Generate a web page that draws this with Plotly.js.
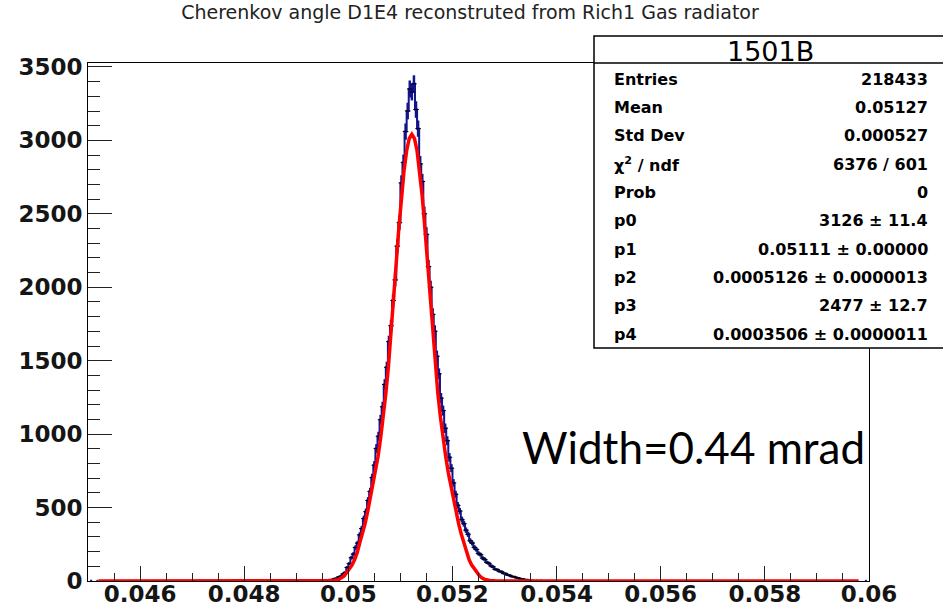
<!DOCTYPE html>
<html>
<head>
<meta charset="utf-8">
<script src="https://cdn.plot.ly/plotly-3.0.1.min.js"></script>
<style>html,body{margin:0;padding:0;background:#fff;}#chart{width:943px;height:608px;}</style>
</head>
<body>
<div id="chart"></div>
<script>
// ---------------- data ----------------
const chartTitle = "Cherenkov angle D1E4 reconstruted from Rich1 Gas radiator";
const histName = "1501B";
const binLo = 0.04948;      // lower edge of first core bin
const binWidth = 0.00004;   // bin width
// core histogram counts (bin centres 0.04950, 0.04954, ...)
const counts = [
  3,5,4,7,9,10,16,19,28,33,
  47,58,92,118,158,183,228,258,314,357,
  425,472,548,610,704,788,902,985,1098,1186,
  1338,1455,1630,1738,1910,2050,2280,2440,2710,2850,
  3060,3200,3350,3330,3385,3210,3080,2840,2720,2500,
  2360,2140,2000,1815,1700,1530,1410,1245,1160,1040,
  955,842,768,668,590,515,476,418,390,346,
  318,274,258,229,214,188,179,156,146,127,
  120,103,96,80,77,66,63,53,50,41,
  38,31,29,23,21,15,14,10,9,6,5
];
// sparse tail bins (few entries)
const tailX = [0.04506,0.04518,0.04534,0.04582,0.04610,0.04646,0.04690,0.04738,0.04770,0.04806,0.04830,0.04854,0.04874,0.04890,0.04906,0.04918,0.04926,0.04934,0.04942,
               0.05354,0.05362,0.05370,0.05382,0.05398,0.05420,0.05450,0.05994];
const tailY = [2,1,1,1,2,1,1,1,2,1,2,1,2,2,1,2,2,3,2,
               4,3,3,2,2,1,1,1];
// fit curve
const fitX = [0.04520,0.04900,0.04962,0.04972,0.04982,0.04987,0.04992,0.04999,0.05002,0.05007,0.05012,0.05017,0.05023,0.05027,0.05032,0.05037,0.05041,0.05047,0.05052,0.05057,0.05062,0.05067,0.05072,0.05077,0.05082,0.05087,0.05092,0.05097,0.05102,0.05107,0.05112,0.05117,0.05122,
              0.05127,0.05132,0.05137,0.05142,0.05147,0.05152,0.05157,0.05162,0.05167,0.05172,0.05177,0.05182,0.05187,0.05192,0.05197,0.05203,0.05207,0.05212,0.05217,0.05221,0.05227,0.05232,0.05237,0.05242,0.05245,0.05252,0.05257,0.05262,0.05272,0.05282,0.05344,0.05980];
const fitY = [0,0,1,3,11,20,35,68,81,108,144,192,273,318,387,470,547,645,738,847,972,1113,1274,1460,1673,1914,2166,2403,2617,2795,2930,3013,3042,
              3013,2930,2795,2617,2403,2166,1914,1673,1460,1274,1113,972,847,738,645,547,470,387,318,273,192,144,108,81,68,35,20,11,3,1,0,0];
// ticks
const xTickVals = [0.046,0.048,0.05,0.052,0.054,0.056,0.058,0.06];
const xTickText = ["0.046","0.048","0.05","0.052","0.054","0.056","0.058","0.06"];
const yTickVals = [0,500,1000,1500,2000,2500,3000,3500];
const yTickText = ["0","500","1000","1500","2000","2500","3000","3500"];
// stats box
const statLabels = ["Entries","Mean","Std Dev","\u03c7<sup>2</sup> / ndf","Prob","p0","p1","p2","p3","p4"];
const statValues = ["218433","0.05127","0.000527","6376 / 601","0","3126 \u00b1 11.4","0.05111 \u00b1 0.00000","0.0005126 \u00b1 0.0000013","2477 \u00b1 12.7","0.0003506 \u00b1 0.0000011"];
const noteText = "Width=0.44 mrad";

// ---------------- layout helpers ----------------
const L = 88, R = 869, T = 63, B = 581, W = 943, H = 608;
const px = X => (X - L) / (R - L);
const py = Y => (B - Y) / (B - T);

const binCenters = counts.map((_, i) => binLo + (i + 0.5) * binWidth);
const errs = counts.map(v => Math.sqrt(v));

const navy = '#14148c';
const traces = [
  {x: binCenters, y: counts, type: 'scatter', mode: 'lines',
   line: {shape: 'hvh', color: navy, width: 2}, hoverinfo: 'skip'},
  {x: binCenters, y: counts, type: 'scatter', mode: 'markers',
   marker: {symbol: 'line-ew', size: 4, color: '#000', line: {color: '#000', width: 1}},
   error_y: {type: 'data', array: errs, visible: true, color: navy, thickness: 2.5, width: 0}},
  {x: tailX, y: tailY, type: 'scatter', mode: 'markers',
   marker: {symbol: 'square', size: 2, color: navy}, cliponaxis: true},
  {x: fitX, y: fitY, type: 'scatter', mode: 'lines',
   line: {color: '#ff0000', width: 3.5}}
];

const tickFont = {family: 'DejaVu Sans', size: 23, weight: 'bold', color: '#151515'};
const statFont = {family: 'DejaVu Sans', size: 16, weight: 'bold', color: '#000'};

const annotations = [];
statLabels.forEach((lab, i) => {
  const yy = 79 + i * 28.35;
  annotations.push({xref: 'paper', yref: 'paper', x: px(612), y: py(yy), xanchor: 'left', yanchor: 'middle',
    text: lab, showarrow: false, font: statFont});
  annotations.push({xref: 'paper', yref: 'paper', x: px(930), y: py(yy), xanchor: 'right', yanchor: 'middle',
    text: statValues[i], showarrow: false, font: statFont});
});
annotations.push({xref: 'paper', yref: 'paper', x: px(770), y: py(51), xanchor: 'center', yanchor: 'middle',
  text: histName, showarrow: false, font: {family: 'DejaVu Sans', size: 27, color: '#000'}});
annotations.push({xref: 'paper', yref: 'paper', x: px(520), y: py(447), xanchor: 'left', yanchor: 'middle',
  text: noteText, showarrow: false, font: {family: 'Lato', size: 44, color: '#000'}});

const layout = {
  width: W, height: H,
  margin: {l: L, r: W - R, t: T, b: H - B, pad: 0},
  paper_bgcolor: '#fff', plot_bgcolor: '#fff',
  showlegend: false,
  title: {text: chartTitle, x: 470 / W, xanchor: 'center', y: 1 - 12 / H, yanchor: 'middle',
          font: {family: 'DejaVu Sans', size: 19, color: '#222'}},
  xaxis: {range: [0.045, 0.06], showline: true, linecolor: '#000', linewidth: 1, mirror: true,
          ticks: 'inside', ticklen: 15, tickcolor: '#222', tickwidth: 1,
          tickmode: 'array', tickvals: xTickVals, ticktext: xTickText, tickfont: tickFont,
          ticklabelstandoff: -8,
          minor: {tickmode: 'linear', tick0: 0.045, dtick: 0.0005, ticks: 'inside', ticklen: 8, tickcolor: '#222', tickwidth: 1, showgrid: false},
          showgrid: false, zeroline: false},
  yaxis: {range: [0, 3527], showline: true, linecolor: '#000', linewidth: 1, mirror: true,
          ticks: 'inside', ticklen: 24, tickcolor: '#222', tickwidth: 1,
          tickmode: 'array', tickvals: yTickVals, ticktext: yTickText, tickfont: tickFont,
          minor: {tickmode: 'linear', tick0: 0, dtick: 100, ticks: 'inside', ticklen: 12, tickcolor: '#222', tickwidth: 1, showgrid: false},
          showgrid: false, zeroline: false},
  shapes: [
    {type: 'rect', xref: 'paper', yref: 'paper', x0: px(594), x1: px(948), y0: py(348), y1: py(36),
     fillcolor: '#fff', line: {color: '#000', width: 1.5}, layer: 'above'},
    {type: 'line', xref: 'paper', yref: 'paper', x0: px(594), x1: px(948), y0: py(63), y1: py(63),
     line: {color: '#000', width: 1.5}, layer: 'above'}
  ],
  annotations: annotations
};

Plotly.newPlot('chart', traces, layout, {displayModeBar: false, staticPlot: true});
</script>
</body>
</html>
